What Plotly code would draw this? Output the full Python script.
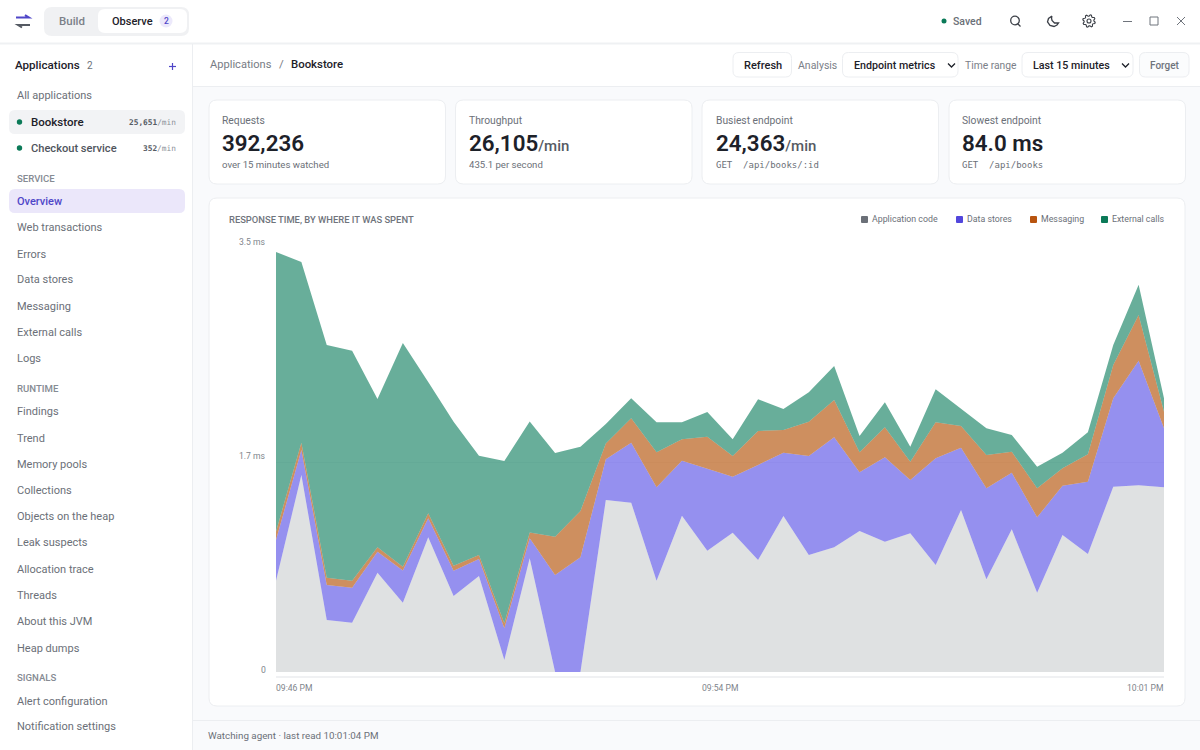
import math
import plotly.graph_objects as go

# response time per sample, ms
app_code = [0.761, 1.642, 0.433, 0.411, 0.828, 0.578, 1.123, 0.633, 0.800, 0.100, 0.948, 0.0,
            0.0, 1.433, 1.411, 0.761, 1.303, 1.011, 1.161, 0.933, 1.300, 0.975, 1.039, 1.175,
            1.086, 1.156, 0.892, 1.350, 0.773, 1.189, 0.661, 1.142, 0.983, 1.544, 1.556, 1.539]
data_stores = [0.339, 0.208, 0.292, 0.292, 0.175, 0.267, 0.158, 0.211, 0.142, 0.264, 0.167, 0.808,
               0.956, 0.339, 0.500, 0.778, 0.458, 0.683, 0.467, 0.792, 0.528, 0.825, 0.917, 0.489,
               0.703, 0.444, 0.889, 0.519, 0.758, 0.472, 0.628, 0.411, 0.603, 0.737, 1.038, 0.492]
messaging = [0.069, 0.061, 0.061, 0.058, 0.037, 0.033, 0.042, 0.042, 0.033, 0.042, 0.047, 0.319,
             0.386, 0.133, 0.203, 0.292, 0.178, 0.267, 0.172, 0.283, 0.189, 0.286, 0.311, 0.167,
             0.250, 0.153, 0.300, 0.181, 0.278, 0.175, 0.242, 0.145, 0.228, 0.278, 0.381, 0.138]
external = [2.331, 1.506, 1.939, 1.917, 1.236, 1.864, 1.094, 1.200, 0.828, 1.353, 0.925, 0.698,
            0.536, 0.161, 0.167, 0.250, 0.142, 0.206, 0.139, 0.264, 0.175, 0.245, 0.283, 0.136,
            0.208, 0.125, 0.275, 0.147, 0.222, 0.139, 0.180, 0.130, 0.183, 0.167, 0.252, 0.112]
samples = list(range(len(app_code)))

series_names = ["Application code", "Data stores", "Messaging", "External calls"]
y_ticks = [0, 1.75, 3.5]
y_labels = ["0", "1.7 ms", "3.5 ms"]
x_ticks = [0, 17.5, 35]
x_labels = ["09:46 PM", "09:54 PM", "10:01 PM"]

nav_service = ["Overview", "Web transactions", "Errors", "Data stores", "Messaging", "External calls", "Logs"]
nav_runtime = ["Findings", "Trend", "Memory pools", "Collections", "Objects on the heap", "Leak suspects",
               "Allocation trace", "Threads", "About this JVM", "Heap dumps"]
nav_signals = ["Alert configuration", "Notification settings"]

card_labels = ["Requests", "Throughput", "Busiest endpoint", "Slowest endpoint"]
card_values = ["392,236", "26,105", "24,363", "84.0 ms"]
card_units = ["", "/min", "/min", ""]
card_subs = ["over 15 minutes watched", "435.1 per second", "GET  /api/books/:id", "GET  /api/books"]

SANS = "Roboto"
MONO = "DejaVu Sans Mono"
INK = "#1d2129"
MUTED = "#6b7078"
LINE = "#eceef1"
PURPLE = "#4f46c8"
GREEN = "#0b7a58"

W, H = 1200, 750
shapes = []
notes = []


def fx(x):
    return x / W


def fy(y):
    return 1 - y / H


def text(x, y, s, size=11, color=MUTED, bold=False, anchor="left", font=SANS, weight=None):
    # annotations sit about a pixel right of where they are asked for
    if anchor == "left":
        x -= 1
    notes.append(dict(x=fx(x), y=fy(y), xref="paper", yref="paper", text=s, showarrow=False,
                      xanchor=anchor, yanchor="middle", borderpad=0,
                      font=dict(family=font, size=size, color=color,
                                weight=weight or (500 if bold else 400))))


def rrect(x0, y0, x1, y1, r, fill="white", line=None):
    p = (f"M{fx(x0 + r)},{fy(y0)} L{fx(x1 - r)},{fy(y0)} Q{fx(x1)},{fy(y0)} {fx(x1)},{fy(y0 + r)} "
         f"L{fx(x1)},{fy(y1 - r)} Q{fx(x1)},{fy(y1)} {fx(x1 - r)},{fy(y1)} "
         f"L{fx(x0 + r)},{fy(y1)} Q{fx(x0)},{fy(y1)} {fx(x0)},{fy(y1 - r)} "
         f"L{fx(x0)},{fy(y0 + r)} Q{fx(x0)},{fy(y0)} {fx(x0 + r)},{fy(y0)} Z")
    shapes.append(dict(type="path", path=p, xref="paper", yref="paper", fillcolor=fill, layer="below",
                       line=dict(color=line or fill, width=1 if line else 0)))


def seg(x0, y0, x1, y1, color=LINE, width=1):
    shapes.append(dict(type="line", x0=fx(x0), y0=fy(y0), x1=fx(x1), y1=fy(y1), xref="paper", yref="paper",
                       layer="below", line=dict(color=color, width=width)))


def poly(points, color, width=1.3, fill="rgba(0,0,0,0)", close=False):
    p = "M" + " L".join(f"{fx(a)},{fy(b)}" for a, b in points) + (" Z" if close else "")
    shapes.append(dict(type="path", path=p, xref="paper", yref="paper", layer="below", fillcolor=fill,
                       line=dict(color=color, width=width)))


def circle(cx, cy, r, fill="rgba(0,0,0,0)", line=None, width=1.3):
    shapes.append(dict(type="circle", x0=fx(cx - r), x1=fx(cx + r), y0=fy(cy + r), y1=fy(cy - r),
                       xref="paper", yref="paper", layer="below", fillcolor=fill,
                       line=dict(color=line or fill, width=width if line else 0)))


# panels
shapes.append(dict(type="rect", x0=fx(193), x1=1, y0=0, y1=fy(86), xref="paper", yref="paper",
                   fillcolor="#f9fafc", line_width=0, layer="below"))
seg(0, 43.5, W, 43.5, "#eff1f3", 2)
seg(192.5, 44, 192.5, H)
seg(193, 86.5, W, 86.5)
seg(193, 720.5, W, 720.5)

# top bar
poly([(16, 17.5), (29, 17.5), (25, 15)], PURPLE, 2)
poly([(30, 25), (18, 25), (22, 27.5)], "#555a63", 2)
rrect(44, 7, 189, 36, 8, "#f0f1f3")
rrect(98, 9, 187, 33, 7, "white")
text(72, 21, "Build", 11.5, "#7b8088", True, "center")
text(112, 21, "Observe", 11, INK, True)
circle(166, 21, 6.5, "#ece9fb")
text(166, 21, "2", 8.5, PURPLE, True, "center")

circle(944, 21, 2.5, GREEN)
text(953, 21, "Saved", 10.5, MUTED, True)
circle(1015, 20.5, 4.3, line="#3c4048")
seg(1018, 24, 1020.5, 26.5, "#3c4048", 1.3)
poly([(1052, 16), (1048.5, 18.5), (1047.5, 22), (1050, 25.5), (1054, 26.5), (1057, 25), (1058.5, 23),
      (1054.5, 23), (1052, 20.5), (1051.5, 18), (1052, 16)], "#3c4048")
gear = []
for k in range(32):
    a = k * math.pi / 16
    rad = 6.3 if k % 4 in (0, 1) else 4.9
    gear.append((1089 + rad * math.cos(a + 0.2), 21 + rad * math.sin(a + 0.2)))
poly(gear, "#3c4048", 1.1, close=True)
circle(1089, 21, 2, line="#3c4048", width=1.1)
seg(1123, 21.5, 1132, 21.5, "#6f747c")
shapes.append(dict(type="rect", x0=fx(1150), x1=fx(1158), y0=fy(25), y1=fy(17), xref="paper", yref="paper",
                   layer="below", line=dict(color="#6f747c", width=1)))
seg(1177, 17, 1185, 25, "#6f747c")
seg(1185, 17, 1177, 25, "#6f747c")

# sidebar
text(15, 65, "Applications", 11.6, INK, True)
text(87, 65, "2", 10, MUTED)
seg(169, 66.5, 176, 66.5, PURPLE, 1.2)
seg(172.5, 63, 172.5, 70, PURPLE, 1.2)
text(17, 95.5, "All applications")
rrect(9, 110, 185, 134, 6, "#f2f3f5")
circle(19.5, 122, 2.7, GREEN)
text(30.5, 122, "Bookstore", 11.5, INK, True)
text(176.5, 122.5, "<b>25,651</b><span style='color:#8b9097'>/min</span>", 7.8, "#555a63", False, "right", MONO)
circle(19.5, 148, 2.7, GREEN)
text(30.5, 148, "Checkout service", 11.1, "#50555d", True)
text(176.5, 148.5, "<b>352</b><span style='color:#8b9097'>/min</span>", 7.8, "#555a63", False, "right", MONO)

text(17, 178, "SERVICE", 9.6, "#868b93", True)
rrect(9, 189, 185, 213, 6, "#ebe7fa")
service_y = [201.5, 227.5, 254, 280, 306.5, 332.5, 358.5]
for name, y in zip(nav_service, service_y):
    if name == "Overview":
        text(17, y, name, 11, PURPLE, True)
    else:
        text(17, y, name)
text(17, 388, "RUNTIME", 9.6, "#868b93", True)
runtime_y = [411.5, 438, 464.5, 490.5, 516.5, 542.5, 569, 595, 621.5, 648.5]
for name, y in zip(nav_runtime, runtime_y):
    text(17, y, name)
text(17, 677, "SIGNALS", 9.6, "#868b93", True)
for name, y in zip(nav_signals, [701, 726.5]):
    text(17, y, name)

# header
text(210, 64, "Applications", 11.1, "#777c84")
text(281, 64, "/", 11.5, "#777c84", False, "center")
text(291, 64, "Bookstore", 11.4, INK, True)
rrect(733, 52.5, 791.5, 77, 6, "white", LINE)
text(762.5, 65, "Refresh", 11, INK, True, "center")
text(798, 65, "Analysis", 10.5, "#7b8088")
rrect(842.5, 52.5, 958, 77, 6, "white", LINE)
text(854, 65, "Endpoint metrics", 10.7, INK, True)
poly([(948, 63.5), (951.5, 67), (955, 63.5)], INK, 1.3)
text(965, 65, "Time range", 10.3, "#7b8088")
rrect(1022, 52.5, 1133, 77, 6, "white", LINE)
text(1033, 65, "Last 15 minutes", 10.7, INK, True)
poly([(1122, 63.5), (1125.5, 67), (1129, 63.5)], INK, 1.3)
rrect(1139.5, 52.5, 1189, 77, 6, "#fbfcfd", LINE)
text(1164.5, 65, "Forget", 10, "#6f747c", True, "center")

# stat cards
card_x = [209, 455.5, 702, 949]
text_x = [222, 469, 716, 962]
for i in range(4):
    x = card_x[i]
    rrect(x, 100, x + 236.5, 184, 8, "white", LINE)
    text(text_x[i], 120, card_labels[i], 10.3, MUTED)
    val = card_values[i]
    if card_units[i]:
        val += "<span style='font-size:15px;font-weight:500;color:#555a63'>" + card_units[i] + "</span>"
    text(text_x[i], 143, val, 22.4, INK, weight=600)
    mono = card_subs[i].startswith("GET")
    text(text_x[i], 165, card_subs[i], 9 if mono else 9.6, MUTED, False, "left", MONO if mono else SANS)

# chart card
rrect(209, 198, 1185, 706, 8, "white", LINE)
text(229, 219.5, "RESPONSE TIME, BY WHERE IT WAS SPENT", 9.4, "#6f747c", True)
legend_colors = ["#6b7078", "#5246dc", "#b8540f", "#0b7a58"]
legend_box = [864, 959, 1033, 1104]
legend_text = [872.5, 967, 1041, 1112]
for name, c, bx, tx in zip(series_names, legend_colors, legend_box, legend_text):
    rrect(bx - 3, 216, bx + 4, 223, 1, c)
    text(tx, 219, name, 8.8, MUTED)
seg(276, 677, 1164, 677, "#f0f1f3", 2)

fig = go.Figure()
fill_colors = ["rgba(109,119,123,0.22)", "rgba(79,70,229,0.6)", "rgba(180,83,9,0.65)", "rgba(4,120,87,0.6)"]
for name, vals, c in zip(series_names, [app_code, data_stores, messaging, external], fill_colors):
    fig.add_trace(go.Scatter(x=samples, y=vals, name=name, mode="lines", stackgroup="one",
                             line=dict(width=0), fillcolor=c, hoverinfo="skip"))

# y tick labels sit a little above their gridlines, so they are annotations
for v, s, shift in zip(y_ticks, y_labels, [2, 6, 10]):
    notes.append(dict(x=fx(266.5), xref="paper", y=v, yref="y", yshift=shift, text=s, showarrow=False,
                      xanchor="right", yanchor="middle", borderpad=0,
                      font=dict(family=SANS, size=8.6, color="#80858c")))
for v, s, a, shift in zip(x_ticks, x_labels, ["left", "center", "right"], [-1, 0, 0]):
    notes.append(dict(x=v, xref="x", xshift=shift, y=fy(688), yref="paper", text=s, showarrow=False, xanchor=a,
                      yanchor="middle", borderpad=0, font=dict(family=SANS, size=8.6, color="#80858c")))

text(208, 735, "Watching agent · last read 10:01:04 PM", 9.8, MUTED)

fig.update_layout(
    width=W, height=H, margin=dict(l=0, r=0, t=0, b=0), showlegend=False, hovermode=False,
    paper_bgcolor="white", plot_bgcolor="rgba(0,0,0,0)", shapes=shapes, annotations=notes,
    xaxis=dict(domain=[fx(276), fx(1164)], range=[0, 35], showgrid=False, zeroline=False,
               showticklabels=False, ticks=""),
    yaxis=dict(domain=[fy(672), fy(252)], range=[0, 3.5], tickvals=y_ticks, showticklabels=False,
               gridcolor="#f5f6f7", gridwidth=1, zeroline=False, ticks=""),
)

fig.write_html("out.html", config={"displayModeBar": False},
               post_script="document.body.style.margin='0';")
